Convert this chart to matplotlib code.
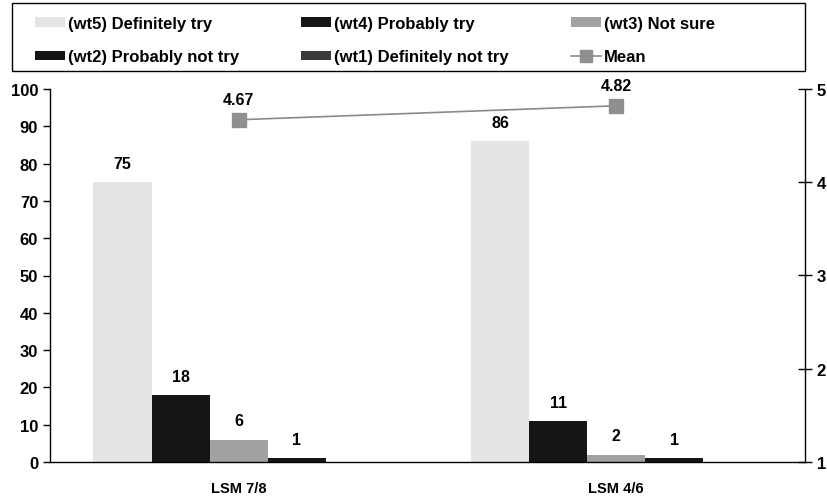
import numpy as np
import matplotlib
matplotlib.use("Agg")
import matplotlib.pyplot as plt
from matplotlib.lines import Line2D
from matplotlib.patches import Patch, Rectangle

plt.rcParams['font.family'] = ['Liberation Sans', 'DejaVu Sans']
plt.rcParams['font.weight'] = 'bold'

# ===== data =====
groups = ["LSM 7/8", "LSM 4/6"]
series_names = ["(wt5) Definitely try", "(wt4) Probably try", "(wt3) Not sure",
                "(wt2) Probably not try", "(wt1) Definitely not try"]
wt5 = [75, 86]
wt4 = [18, 11]
wt3 = [6, 2]
wt2 = [1, 1]
wt1 = [0, 0]
mean_vals = [4.67, 4.82]

series = [wt5, wt4, wt3, wt2, wt1]
colors = ['#e4e4e4', '#151515', '#a2a2a2', '#151515', '#3a3a3a']

fig = plt.figure(figsize=(8.28, 5.02), dpi=100)
ax = fig.add_axes([50/828, 1-463/502, 755/828, 373/502])
ax2 = ax.twinx()

x = np.arange(len(groups))
width = 0.154
for i, (vals, col) in enumerate(zip(series, colors)):
	pos = x + (i - 2) * width
	ax.bar(pos, vals, width, color=col, edgecolor='none', zorder=2)
	for px, v in zip(pos, vals):
		if v > 0:
			ax.text(px, v + 3, str(v), ha='center', va='bottom',
			        fontsize=11.5, fontweight='bold')

# mean line on the right axis
ax2.plot(x, mean_vals, color='#8a8a8a', lw=1.2, marker='s', markersize=10,
         markerfacecolor='#8f8f8f', markeredgecolor='#8f8f8f', zorder=3)
for px, m in zip(x, mean_vals):
	ax2.annotate("%.2f" % m, (px, m), textcoords="offset points", xytext=(0, 9),
	             ha='center', va='bottom', fontsize=11.5, fontweight='bold')

# axes styling
ax.set_xlim(-0.5, 1.5)
ax.set_ylim(0, 100)
ax.set_yticks(range(0, 101, 10))
ax2.set_ylim(1, 5)
ax2.set_yticks([1, 2, 3, 4, 5])
ax.set_xticks(x)
ax.set_xticklabels(groups, fontsize=10.5, fontweight='bold')
ax.tick_params(axis='x', length=0, pad=14)
ax.tick_params(axis='y', labelsize=12, direction='out', length=5, width=1)
ax2.tick_params(axis='y', labelsize=12, direction='inout', length=10, width=1)
for a in (ax, ax2):
	a.spines['top'].set_visible(False)
	for s in ('left', 'right', 'bottom'):
		a.spines[s].set_color('black')
		a.spines[s].set_linewidth(1)
ax.spines['right'].set_visible(False)
ax2.spines['left'].set_visible(False)
ax2.spines['bottom'].set_visible(False)

# legend box
fig.patches.append(Rectangle((12/828, 1-72/502), 793/828, 68/502, transform=fig.transFigure,
                             fill=False, edgecolor='black', lw=1))
handles = [Patch(facecolor=c, edgecolor='none') for c in colors]
mean_handle = Line2D([], [], color='#8a8a8a', lw=1.2, marker='s', markersize=8,
                     markerfacecolor='#8f8f8f', markeredgecolor='#8f8f8f')
order = [0, 3, 1, 4, 2]
leg_handles = [handles[i] for i in order] + [mean_handle]
leg_labels = [series_names[i] for i in order] + ["Mean"]
fig.legend(leg_handles, leg_labels, ncol=3, loc='center left',
           bbox_to_anchor=(35/828, 1-41/502), frameon=False, fontsize=12,
           handlelength=1.8, handleheight=0.5, handletextpad=0.2,
           labelspacing=1.1, columnspacing=3.7, borderpad=0, borderaxespad=0)

fig.savefig("out.png", dpi=100)
